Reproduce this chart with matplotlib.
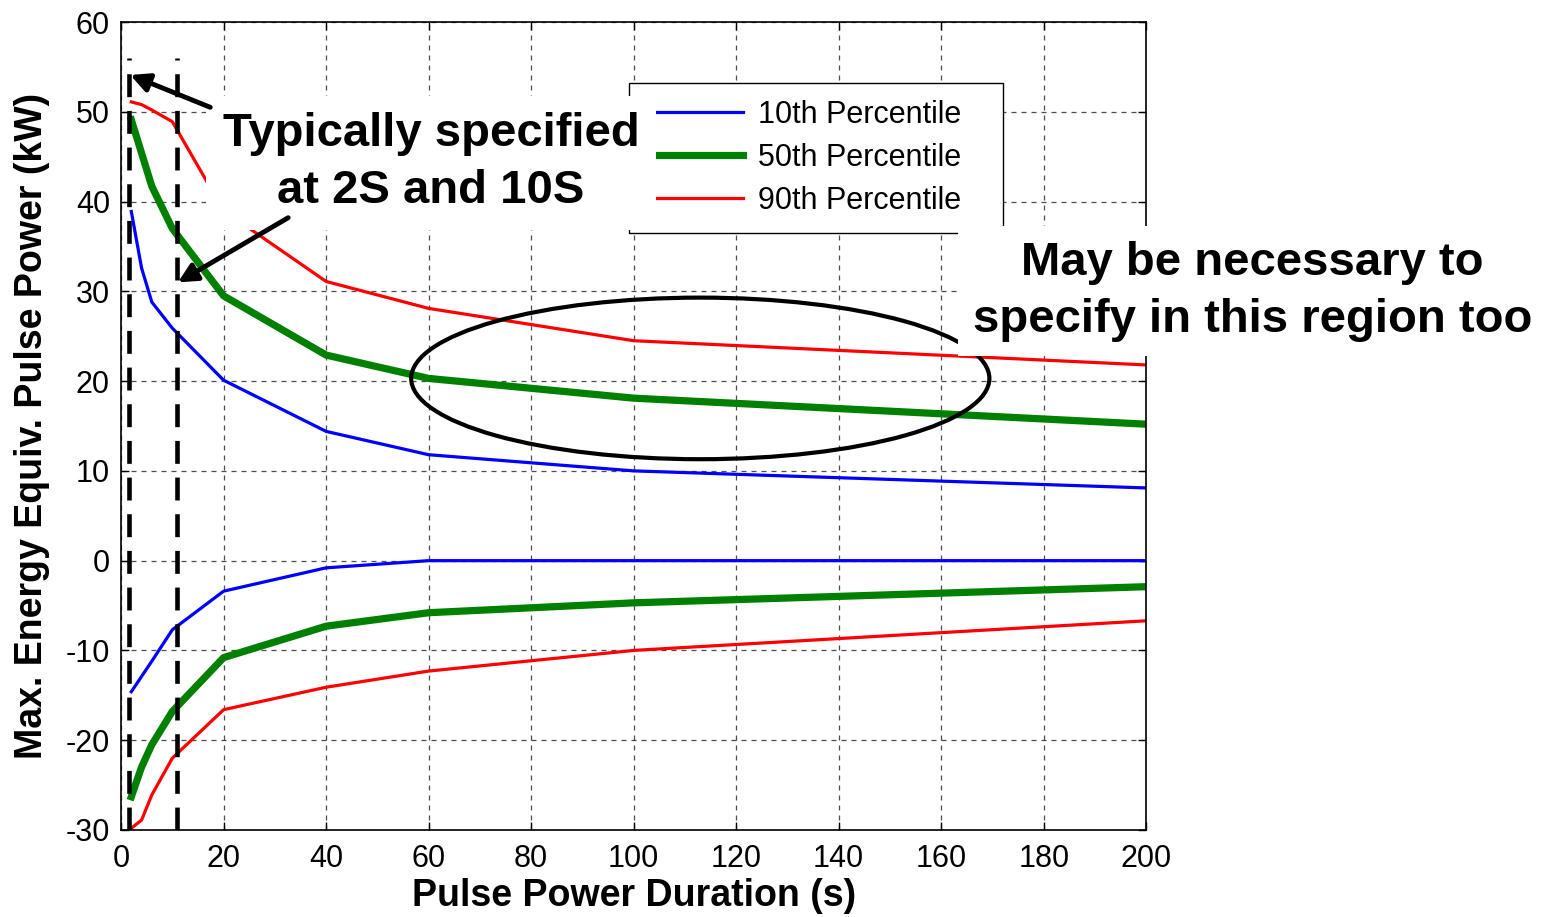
import numpy as np
import matplotlib
matplotlib.use('Agg')
import matplotlib.pyplot as plt
from matplotlib.patches import Ellipse

plt.rcParams['font.family'] = ['Liberation Sans', 'DejaVu Sans']
plt.rcParams['axes.unicode_minus'] = False

# pulse duration (s)
duration = [2, 4, 6, 10, 20, 40, 60, 100, 200]

# discharge side (positive power)
p10_pos = [38.9, 32.6, 28.8, 25.9, 20.1, 14.4, 11.8, 10.0, 8.1]
p50_pos = [49.1, 45.4, 41.7, 37.0, 29.5, 22.9, 20.3, 18.1, 15.2]
p90_pos = [51.1, 50.8, 50.2, 48.9, 39.0, 31.1, 28.1, 24.5, 21.8]

# charge side (negative power)
p10_neg = [-14.6, -12.9, -11.2, -7.7, -3.4, -0.8, 0.0, 0.0, 0.0]
p50_neg = [-26.3, -23.0, -20.5, -16.8, -10.8, -7.3, -5.8, -4.7, -2.9]
p90_neg = [-29.8, -28.9, -26.1, -22.0, -16.6, -14.1, -12.3, -10.0, -6.7]

labels = ['10th Percentile', '50th Percentile', '90th Percentile']

fig = plt.figure(figsize=(15.54, 9.17), dpi=100)
ax = fig.add_axes([0.0779, 0.0949, 0.6597, 0.8811])

l1, = ax.plot(duration, p10_pos, color='#0000ff', lw=2.3)
l2, = ax.plot(duration, p50_pos, color='#008000', lw=5.2)
l3, = ax.plot(duration, p90_pos, color='#ff0000', lw=2.3)
ax.plot(duration, p10_neg, color='#0000ff', lw=2.3)
ax.plot(duration, p50_neg, color='#008000', lw=5.2)
ax.plot(duration, p90_neg, color='#ff0000', lw=2.3)

# the two commonly specified durations
for xv in [1.6, 11.0]:
    ax.plot([xv, xv], [-30, 56], color='black', lw=3.3, dashes=(5, 3), zorder=6)

ax.set_xlim(0, 200)
ax.set_ylim(-30, 60)
ax.set_xticks(np.arange(0, 201, 20))
ax.set_yticks(np.arange(-30, 61, 10))
ax.tick_params(direction='in', length=6, width=1, top=True, right=True, labelsize=22)
ax.tick_params(axis='x', pad=10)
ax.tick_params(axis='y', pad=8)
ax.grid(True, color='#222222', lw=0.9, dashes=(4, 4), alpha=0.8)
for s in ax.spines.values():
    s.set_linewidth(1.2)

ax.set_xlabel('Pulse Power Duration (s)', fontsize=27, fontweight='bold', labelpad=3)
ax.set_ylabel('Max. Energy Equiv. Pulse Power (kW)', fontsize=27, fontweight='bold', labelpad=11)

leg = ax.legend([l1, l2, l3], labels, loc='upper left',
                bbox_to_anchor=(0.495, 0.7485, 0.365, 0.176), mode='expand',
                borderaxespad=0, fontsize=22, handlelength=3.2, handletextpad=0.5,
                labelspacing=0.43, borderpad=0.55, fancybox=False, framealpha=1,
                edgecolor='black')
leg.get_frame().set_linewidth(1.0)

ax.add_patch(Ellipse((113, 20.3), 112.8, 18.0, fill=False, edgecolor='black', lw=3, zorder=7))

ax.text(60.5, 44.3, 'Typically specified\nat 2S and 10S', ha='center', va='center',
        multialignment='center', fontsize=34, fontweight='bold', linespacing=1.38, zorder=8,
        bbox=dict(boxstyle='square,pad=0.35', facecolor='white', edgecolor='none'))
ax.text(220.7, 30.0, 'May be necessary to\nspecify in this region too', ha='center', va='center',
        multialignment='center', fontsize=34, fontweight='bold', linespacing=1.4, zorder=8,
        bbox=dict(boxstyle='square,pad=0.3', facecolor='white', edgecolor='none'))

arrow = dict(arrowstyle='-|>', color='black', lw=3.5, mutation_scale=28, shrinkA=0, shrinkB=0)
ax.annotate('', xy=(1.8, 54.1), xytext=(17.4, 50.5), arrowprops=arrow, zorder=9)
ax.annotate('', xy=(11.1, 31.0), xytext=(32.6, 38.2), arrowprops=arrow, zorder=9)

fig.savefig('out.png', dpi=100)
